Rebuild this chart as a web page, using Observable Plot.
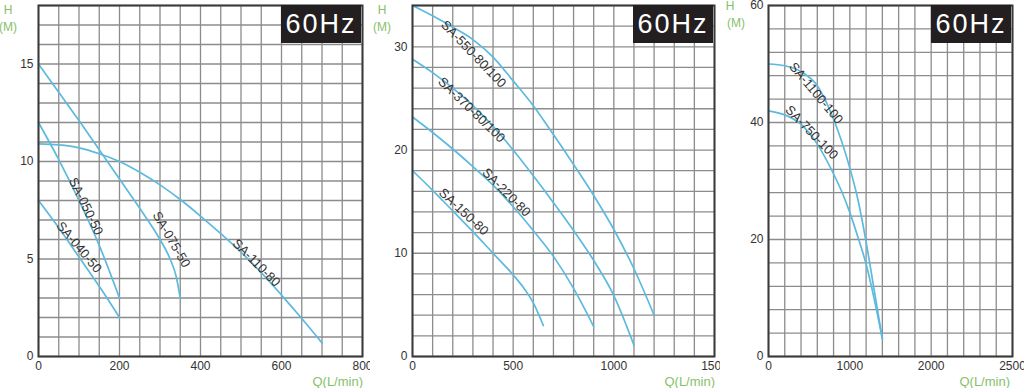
<!DOCTYPE html>
<html>
<head>
<meta charset="utf-8">
<script src="https://cdn.jsdelivr.net/npm/d3@7"></script>
<script src="https://cdn.jsdelivr.net/npm/@observablehq/plot@0.6"></script>
<style>
  html, body { margin: 0; padding: 0; background: #fff; }
  #wrap { position: relative; width: 1024px; height: 388px; overflow: hidden; background: #fff; font-family: "Liberation Sans", Arial, sans-serif; }
  .panel { position: absolute; top: 0; }
  .hz { position: absolute; top: 5px; width: 80px; height: 38px; background: #231f20; color: #fff;
        font-size: 27px; letter-spacing: 2px; line-height: 38px; text-align: center; }
  .alab { position: absolute; color: #86c06a; font-size: 12px; line-height: 12px; text-align: center; width: 30px; }
  .qlab { position: absolute; color: #86c06a; font-size: 13px; line-height: 13px; text-align: right; width: 80px; }
</style>
</head>
<body>
<div id="wrap"></div>
<script>
// ---------- Panel 1 data (Q in L/min, H in m) ----------
const p1Series = ["SA-040-50", "SA-050-50", "SA-075-50", "SA-110-80"];
const q_SA040_50 = [0, 50, 100, 150, 200];
const h_SA040_50 = [8, 6.6, 5.1, 3.6, 2];
const q_SA050_50 = [0, 50, 100, 150, 200];
const h_SA050_50 = [12, 10.1, 8.0, 5.7, 3];
const q_SA075_50 = [0, 50, 100, 150, 200, 250, 300, 325, 340, 350];
const h_SA075_50 = [15, 13.55, 12.1, 10.6, 9.1, 7.6, 6.0, 5.0, 4.1, 3.0];
const q_SA110_80 = [0, 50, 100, 150, 200, 250, 300, 350, 400, 450, 500, 550, 600, 650, 700];
const h_SA110_80 = [10.9, 10.85, 10.7, 10.4, 10.0, 9.45, 8.8, 8.05, 7.2, 6.3, 5.35, 4.3, 3.15, 1.95, 0.7];

// ---------- Panel 2 data ----------
const p2Series = ["SA-550-80/100", "SA-370-80/100", "SA-220-80", "SA-150-80"];
const q_SA550 = [0, 100, 200, 300, 400, 500, 600, 700, 800, 900, 1000, 1100, 1200];
const h_SA550 = [34, 33.0, 31.9, 30.7, 29.0, 26.7, 24.3, 21.5, 18.6, 15.6, 12.3, 8.5, 4.0];
const q_SA370 = [0, 100, 200, 300, 400, 500, 600, 700, 800, 900, 1000, 1100];
const h_SA370 = [28.8, 27.5, 26.0, 24.3, 22.3, 20.0, 17.5, 14.9, 12.2, 9.3, 5.9, 1.1];
const q_SA220 = [0, 100, 200, 300, 400, 500, 600, 700, 800, 900];
const h_SA220 = [23.2, 21.7, 20.1, 18.4, 16.6, 14.5, 12.2, 9.7, 6.6, 2.9];
const q_SA150 = [0, 100, 200, 300, 400, 500, 550, 600, 650];
const h_SA150 = [18, 16.1, 14.1, 12.1, 10.0, 7.9, 6.7, 5.2, 3.0];

// ---------- Panel 3 data ----------
const p3Series = ["SA-1100-100", "SA-750-100"];
const q_SA1100 = [0, 200, 400, 600, 700, 800, 1000, 1100, 1200, 1300, 1400];
const h_SA1100 = [50, 49.7, 48.7, 46.3, 43.8, 40.6, 32.2, 26.8, 19.6, 11.3, 3.0];
const q_SA750 = [0, 200, 400, 600, 800, 900, 1000, 1100, 1200, 1300, 1400];
const h_SA750 = [42, 41.3, 39.7, 36.3, 31.2, 28.2, 24.6, 20.4, 15.8, 9.8, 3.0];

// ---------- Curve label placements (Q, H) ----------
const p1LabelQ = [100, 117, 328, 538];
const p1LabelH = [5.6, 7.7, 6.0, 4.8];
const p2LabelQ = [303, 293, 466, 254];
const p2LabelH = [29.3, 23.9, 15.9, 14.0];
const p3LabelQ = [585, 530];
const p3LabelH = [45.0, 38.3];

// ---------- Axis ticks ----------
const p1XTicks = [0, 200, 400, 600, 800];
const p1YTicks = [0, 5, 10, 15];
const p2XTicks = [0, 500, 1000, 1500];
const p2YTicks = [0, 10, 20, 30];
const p3XTicks = [0, 1000, 2000, 3000];
const p3XTickLabels = ["0", "1000", "2000", "2500"];
const p3YTicks = [0, 20, 40, 60];

const hzText = "60Hz";
const xTitle = "Q(L/min)";
const yTitle = ["H", "(M)"];

function rows(name, qs, hs) { return qs.map((q, i) => ({series: name, q, h: hs[i]})); }

const p1Data = [
  ...rows(p1Series[0], q_SA040_50, h_SA040_50),
  ...rows(p1Series[1], q_SA050_50, h_SA050_50),
  ...rows(p1Series[2], q_SA075_50, h_SA075_50),
  ...rows(p1Series[3], q_SA110_80, h_SA110_80)
];
const p2Data = [
  ...rows(p2Series[0], q_SA550, h_SA550),
  ...rows(p2Series[1], q_SA370, h_SA370),
  ...rows(p2Series[2], q_SA220, h_SA220),
  ...rows(p2Series[3], q_SA150, h_SA150)
];
const p3Data = [
  ...rows(p3Series[0], q_SA1100, h_SA1100),
  ...rows(p3Series[1], q_SA750, h_SA750)
];

const p1Rot = [50, 64, 60, 45];
const p2Rot = [46, 44, 45, 43];
const p3Rot = [50, 46];

const labels = (names, qs, hs, rots) => names.map((s, i) => ({text: s, q: qs[i], h: hs[i], r: rots[i]}));

const wrap = document.getElementById("wrap");

function panel({left, width, mL, mR, xDom, yDom, xTicks, yTicks, xFmt, xStep, yStep, data, labs}) {
  const chart = Plot.plot({
    width, height: 388,
    marginLeft: mL, marginRight: mR, marginTop: 5, marginBottom: 32,
    style: {fontFamily: "'Liberation Sans', Arial, sans-serif", fontSize: "12px", color: "#333", background: "#fff", overflow: "visible"},
    x: {domain: xDom, label: null},
    y: {domain: yDom, label: null},
    marks: [
      Plot.gridX(d3.range(xDom[0], xDom[1] + 1e-9, xStep), {stroke: "#8c8c8c", strokeWidth: 1.3, strokeOpacity: 1}),
      Plot.gridY(d3.range(yDom[0], yDom[1] + 1e-9, yStep), {stroke: "#8c8c8c", strokeWidth: 1.3, strokeOpacity: 1}),
      Plot.axisX({ticks: xTicks, tickSize: 0, tickPadding: 5, tickFormat: xFmt, fill: "#333", label: null}),
      Plot.axisY({ticks: yTicks, tickSize: 0, tickPadding: 5, fill: "#333", label: null}),
      Plot.line(data, {x: "q", y: "h", z: "series", stroke: "#5cbade", strokeWidth: 1.7, curve: "monotone-x"}),
      Plot.text(labs, {x: "q", y: "h", text: "text", rotate: "r", fill: "#333", fontSize: 13,
        fontFamily: "'Liberation Sans Narrow', 'Arial Narrow', 'Liberation Sans', sans-serif"}),
      Plot.frame({stroke: "#3a3a3a", strokeWidth: 2})
    ]
  });
  const div = document.createElement("div");
  div.className = "panel";
  div.style.left = left + "px";
  div.style.width = width + "px";
  div.appendChild(chart);
  wrap.appendChild(div);
}

panel({left: 0, width: 370, mL: 38, mR: 8, xDom: [0, 800], yDom: [0, 18], xTicks: p1XTicks, yTicks: p1YTicks,
  xFmt: d => String(d), xStep: 50, yStep: 1, data: p1Data, labs: labels(p1Series, p1LabelQ, p1LabelH, p1Rot)});
panel({left: 370, width: 350, mL: 42, mR: 6, xDom: [0, 1500], yDom: [0, 34], xTicks: p2XTicks, yTicks: p2YTicks,
  xFmt: d => String(d), xStep: 100, yStep: 2, data: p2Data, labs: labels(p2Series, p2LabelQ, p2LabelH, p2Rot)});
panel({left: 720, width: 304, mL: 48, mR: 12, xDom: [0, 3000], yDom: [0, 60], xTicks: p3XTicks, yTicks: p3YTicks,
  xFmt: d => p3XTickLabels[p3XTicks.indexOf(d)], xStep: 200, yStep: 4, data: p3Data, labs: labels(p3Series, p3LabelQ, p3LabelH, p3Rot)});

// overlays: 60Hz boxes, axis titles
const hzLefts = [281, 633, 931];
hzLefts.forEach(l => {
  const d = document.createElement("div");
  d.className = "hz"; d.style.left = l + "px"; d.textContent = hzText; wrap.appendChild(d);
});
const hPos = [[8, 4, 21], [382, 4, 21], [730, 0, 17]];
hPos.forEach(([cx, t1, t2]) => {
  [t1, t2].forEach((t, i) => {
    const d = document.createElement("div");
    d.className = "alab"; d.style.left = (cx - 15 + (i && cx > 700 ? 6 : 0)) + "px"; d.style.top = t + "px";
    d.textContent = yTitle[i]; wrap.appendChild(d);
  });
});
const qRights = [363, 715, 1010];
qRights.forEach(r => {
  const d = document.createElement("div");
  d.className = "qlab"; d.style.left = (r - 80) + "px"; d.style.top = "375px"; d.textContent = xTitle; wrap.appendChild(d);
});
</script>
</body>
</html>
